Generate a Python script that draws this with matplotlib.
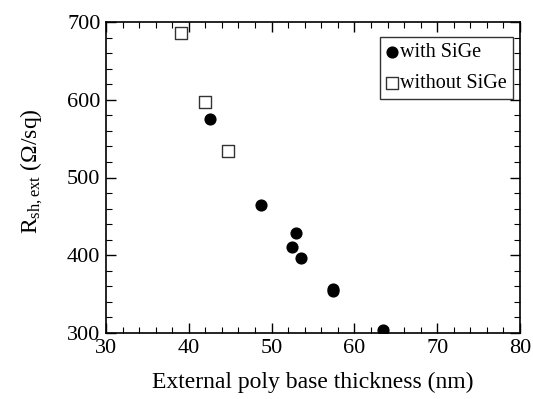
import numpy as np
import matplotlib
matplotlib.use('Agg')
from matplotlib import pyplot as plt
from matplotlib.ticker import MultipleLocator

# values
with_x = [42.6, 48.7, 52.9, 52.5, 53.6, 57.4, 57.4, 63.4]
with_y = [575, 465, 428, 410, 396, 357, 354, 304]
without_x = [39.1, 41.9, 44.7]
without_y = [686, 597, 534]

plt.rcParams['font.family'] = ['Liberation Serif', 'DejaVu Serif']
plt.rcParams['mathtext.fontset'] = 'custom'
plt.rcParams['mathtext.rm'] = 'Liberation Serif'
plt.rcParams['mathtext.it'] = 'Liberation Serif:italic'

fig = plt.figure(figsize=(5.33, 3.99), dpi=100)
ax = fig.add_axes([106 / 533, 1 - 333 / 399, 414 / 533, 311 / 399])

ax.scatter(with_x, with_y, marker='o', s=60, color='black', label='with SiGe', zorder=3)
ax.scatter(without_x, without_y, marker='s', s=65, facecolor='white',
           edgecolor='#333333', linewidth=1.0, label='without SiGe', zorder=3)

ax.set_xlim(30, 80)
ax.set_ylim(300, 700)
ax.xaxis.set_major_locator(MultipleLocator(10))
ax.xaxis.set_minor_locator(MultipleLocator(2))
ax.yaxis.set_major_locator(MultipleLocator(100))
ax.yaxis.set_minor_locator(MultipleLocator(20))
ax.tick_params(which='both', direction='in', top=True, right=True, labelsize=16, pad=4)
ax.tick_params(which='major', length=7, width=1.0)
ax.tick_params(which='minor', length=4, width=0.8)
for sp in ax.spines.values():
    sp.set_linewidth(1.2)

ax.set_xlabel('External poly base thickness (nm)', fontsize=17, labelpad=10)
ax.set_ylabel(r'R$_{\mathrm{sh,ext}}$ (Ω/sq)', fontsize=17)
ax.yaxis.set_label_coords(-0.147, 0.52)

leg = ax.legend(loc='upper right', bbox_to_anchor=(0.982, 0.952), fontsize=14.5,
                frameon=True, fancybox=False, handletextpad=0.1, handlelength=0.6,
                borderpad=0.3, labelspacing=0.6, borderaxespad=0.0)
leg.get_frame().set_edgecolor('black')
leg.get_frame().set_linewidth(1.0)

plt.savefig('out.png', dpi=100)
